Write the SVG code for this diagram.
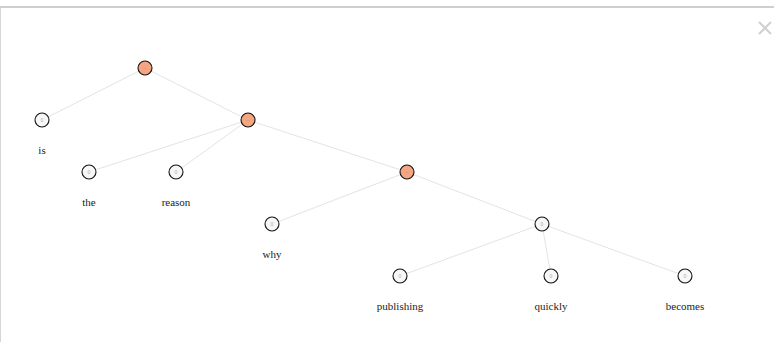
<svg xmlns="http://www.w3.org/2000/svg" width="774" height="342" viewBox="0 0 774 342">
<style>
.edge{stroke:#e3e3e3;stroke-width:1;fill:none}
.leaf circle{fill:#f7f7f7;stroke:#111;stroke-width:1.1}
.inner circle{fill:#f4a582;stroke:#111;stroke-width:1.1}
.n{font-family:"Liberation Sans",Arial,sans-serif;font-size:5px;fill:#aaa;text-anchor:middle}
.d{font-family:"Liberation Sans",Arial,sans-serif;font-size:6px;fill:#d68a6a;text-anchor:middle}
.lbl{font-family:"Liberation Serif","Times New Roman",serif;font-size:11px;fill:#222;text-anchor:middle}
</style>
<rect x="0" y="0" width="774" height="342" fill="#fff"/>
<line x1="0" y1="7" x2="774" y2="7" stroke="#cfcfcf" stroke-width="2"/>
<line x1="0.5" y1="8" x2="0.5" y2="342" stroke="#d6d6d6" stroke-width="1"/>
<g id="close" stroke="#d0d0d0" stroke-width="2">
<line x1="759" y1="22" x2="771" y2="34"/>
<line x1="771" y1="22" x2="759" y2="34"/>
</g>
<g id="connectors">
<line class="edge" x1="145" y1="68" x2="42" y2="120"/>
<line class="edge" x1="145" y1="68" x2="248" y2="120"/>
<line class="edge" x1="248" y1="120" x2="89" y2="172"/>
<line class="edge" x1="248" y1="120" x2="176" y2="172"/>
<line class="edge" x1="248" y1="120" x2="407" y2="172"/>
<line class="edge" x1="407" y1="172" x2="272" y2="224"/>
<line class="edge" x1="407" y1="172" x2="542" y2="224"/>
<line class="edge" x1="542" y1="224" x2="400" y2="276"/>
<line class="edge" x1="542" y1="224" x2="551" y2="276"/>
<line class="edge" x1="542" y1="224" x2="685" y2="276"/>
</g>
<g id="root" class="inner"><circle cx="145" cy="68" r="7"/><text class="d" x="145" y="70">–</text></g>
<g id="n2" class="inner"><circle cx="248" cy="120" r="7"/><text class="d" x="248" y="122">–</text></g>
<g id="n3" class="inner"><circle cx="407" cy="172" r="7"/><text class="d" x="407" y="174">–</text></g>
<g id="n4" class="leaf"><circle cx="542" cy="224" r="7"/><text class="n" x="542" y="226">0</text></g>
<g id="is" class="leaf"><circle cx="42" cy="120" r="7"/><text class="n" x="42" y="122">0</text><text class="lbl" x="42" y="154">is</text></g>
<g id="the" class="leaf"><circle cx="89" cy="172" r="7"/><text class="n" x="89" y="174">0</text><text class="lbl" x="89" y="206">the</text></g>
<g id="reason" class="leaf"><circle cx="176" cy="172" r="7"/><text class="n" x="176" y="174">0</text><text class="lbl" x="176" y="206">reason</text></g>
<g id="why" class="leaf"><circle cx="272" cy="224" r="7"/><text class="n" x="272" y="226">0</text><text class="lbl" x="272" y="258">why</text></g>
<g id="publishing" class="leaf"><circle cx="400" cy="276" r="7"/><text class="n" x="400" y="278">0</text><text class="lbl" x="400" y="310">publishing</text></g>
<g id="quickly" class="leaf"><circle cx="551" cy="276" r="7"/><text class="n" x="551" y="278">0</text><text class="lbl" x="551" y="310">quickly</text></g>
<g id="becomes" class="leaf"><circle cx="685" cy="276" r="7"/><text class="n" x="685" y="278">0</text><text class="lbl" x="685" y="310">becomes</text></g>
</svg>
